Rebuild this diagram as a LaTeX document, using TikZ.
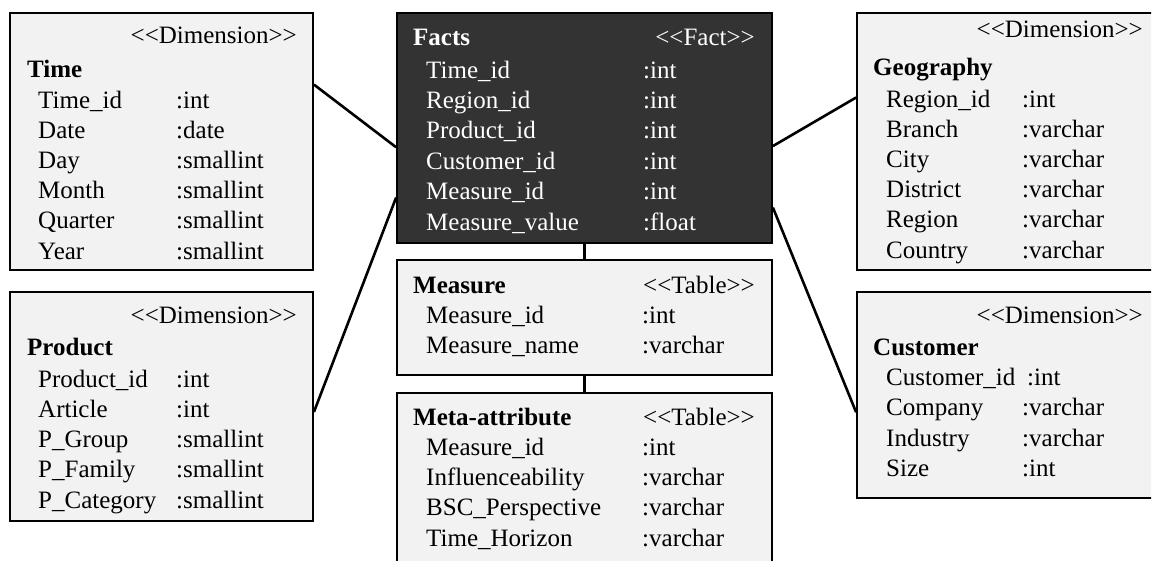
\documentclass[tikz,border=0pt]{standalone}
\usepackage{fontspec}
\setmainfont{Liberation Serif}
\usetikzlibrary{calc}
\definecolor{boxfill}{HTML}{F2F2F2}
\definecolor{factfill}{HTML}{333333}
% kerns keep the two angle brackets from merging into a guillemet
\newcommand{\stereo}[1]{<\kern0pt<#1>\kern0pt>}
\begin{document}
\begin{tikzpicture}[x=1pt,y=-1pt,
  tbl/.style={draw=black, line width=1.8pt, fill=boxfill, rectangle, inner sep=0pt},
  facttbl/.style={tbl, fill=factfill},
  link/.style={line width=2.6pt, draw=black},
  txt/.style={anchor=base west, inner sep=0pt, font=\fontsize{25}{30}\selectfont},
  hd/.style={txt, font=\fontsize{25}{30}\selectfont\bfseries},
  st/.style={txt, anchor=base east},
  wtxt/.style={txt, text=white},
  whd/.style={hd, text=white},
  wst/.style={st, text=white}
]
\useasboundingbox (0,0) rectangle (1153,560);
\clip (0,0) rectangle (1151,560);

% ---------- table frames ----------
\node[tbl, minimum width=303pt, minimum height=257pt] (time) at (161.5,141.5) {};
\node[tbl, minimum width=303pt, minimum height=229pt] (product) at (161.5,406.5) {};
\node[facttbl, minimum width=375pt, minimum height=230pt] (facts) at (584.5,128) {};
\node[tbl, minimum width=375pt, minimum height=115pt] (measure) at (584.5,317.5) {};
\node[tbl, minimum width=375pt, minimum height=187pt] (meta) at (584.5,486.5) {};
\node[tbl, minimum width=303pt, minimum height=257pt] (geo) at (1008.5,141.5) {};
\node[tbl, minimum width=303pt, minimum height=206pt] (customer) at (1008.5,395) {};

% ---------- connectors ----------
\draw[link] ($(time.north east)!0.28!(time.south east)$) -- ($(facts.north west)!0.583!(facts.south west)$);
\draw[link] ($(product.north east)!0.524!(product.south east)$) -- ($(facts.north west)!0.8!(facts.south west)$);
\draw[link] ($(geo.north west)!0.33!(geo.south west)$) -- ($(facts.north east)!0.578!(facts.south east)$);
\draw[link] ($(customer.north west)!0.583!(customer.south west)$) -- ($(facts.north east)!0.843!(facts.south east)$);
\draw[link] (facts.south) -- (measure.north);
\draw[link] (measure.south) -- (meta.north);

% ---------- Time ----------
\node[st] (time-st) at (297,43) {\stereo{Dimension}};
\node[hd] (time-hd) at (27,77) {Time};
\foreach \a/\t [count=\i] in {Time\_id/int, Date/date, Day/smallint, Month/smallint, Quarter/smallint, Year/smallint} {
  \node[txt] (time-a\i) at (38,77.8+30.2*\i) {\a};
  \node[txt] (time-t\i) at (176,77.8+30.2*\i) {:\t};
}

% ---------- Product ----------
\node[st] (product-st) at (297,323) {\stereo{Dimension}};
\node[hd] (product-hd) at (27,355) {Product};
\foreach \a/\t [count=\i] in {Product\_id/int, Article/int, P\_Group/smallint, P\_Family/smallint, P\_Category/smallint} {
  \node[txt] (product-a\i) at (38,356.75+30.25*\i) {\a};
  \node[txt] (product-t\i) at (176,356.75+30.25*\i) {:\t};
}

% ---------- Facts ----------
\node[whd] (facts-hd) at (413,45) {Facts};
\node[wst] (facts-st) at (755,45) {\stereo{Fact}};
\foreach \a/\t [count=\i] in {Time\_id/int, Region\_id/int, Product\_id/int, Customer\_id/int, Measure\_id/int, Measure\_value/float} {
  \node[wtxt] (facts-a\i) at (426,47.6+30.4*\i) {\a};
  \node[wtxt] (facts-t\i) at (643,47.6+30.4*\i) {:\t};
}

% ---------- Measure ----------
\node[hd] (measure-hd) at (413,293) {Measure};
\node[st] (measure-st) at (755,293) {\stereo{Table}};
\foreach \a/\t [count=\i] in {Measure\_id/int, Measure\_name/varchar} {
  \node[txt] (measure-a\i) at (426,292.7+30.5*\i) {\a};
  \node[txt] (measure-t\i) at (642,292.7+30.5*\i) {:\t};
}

% ---------- Meta-attribute ----------
\node[hd] (meta-hd) at (413,425) {Meta-attribute};
\node[st] (meta-st) at (755,425) {\stereo{Table}};
\foreach \a/\t [count=\i] in {Measure\_id/int, Influenceability/varchar, BSC\_Perspective/varchar, Time\_Horizon/varchar} {
  \node[txt] (meta-a\i) at (426,424.7+30.33*\i) {\a};
  \node[txt] (meta-t\i) at (642,424.7+30.33*\i) {:\t};
}

% ---------- Geography ----------
\node[st] (geo-st) at (1143,37) {\stereo{Dimension}};
\node[hd] (geo-hd) at (873,75) {Geography};
\foreach \a/\t [count=\i] in {Region\_id/int, Branch/varchar, City/varchar, District/varchar, Region/varchar, Country/varchar} {
  \node[txt] (geo-a\i) at (886,76.8+30.2*\i) {\a};
  \node[txt] (geo-t\i) at (1022,76.8+30.2*\i) {:\t};
}

% ---------- Customer ----------
\node[st] (customer-st) at (1143,323) {\stereo{Dimension}};
\node[hd] (customer-hd) at (873,355) {Customer};
\foreach \a/\t/\x [count=\i] in {Customer\_id/int/1027, Company/varchar/1022, Industry/varchar/1022, Size/int/1022} {
  \node[txt] (customer-a\i) at (886,354.5+30.6*\i) {\a};
  \node[txt] (customer-t\i) at (\x,354.5+30.6*\i) {:\t};
}
\end{tikzpicture}
\end{document}
